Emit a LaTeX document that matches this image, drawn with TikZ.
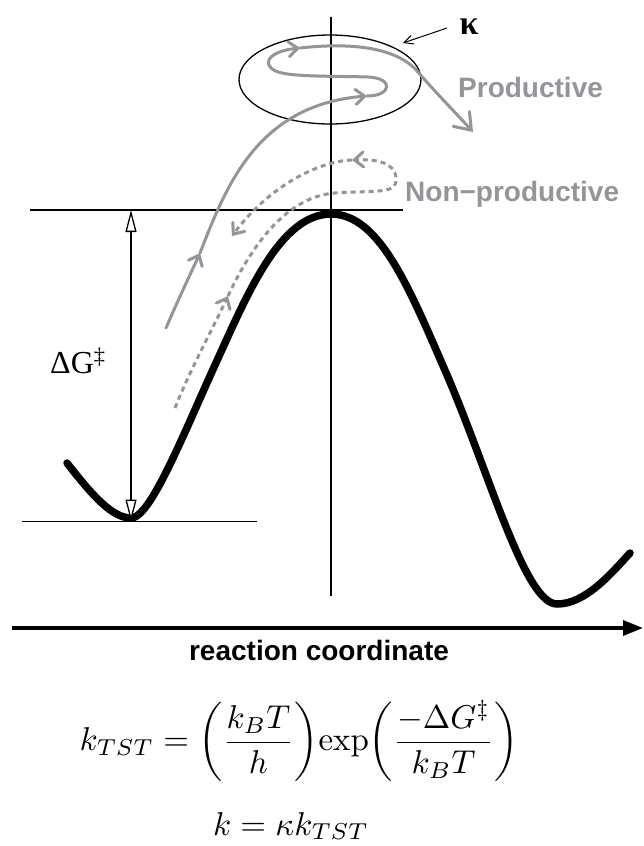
\documentclass[tikz,border=0pt]{standalone}
\usepackage{graphicx}
\usepackage[no-math]{fontspec}
\setmainfont{Liberation Serif}
\newfontfamily\labelfont{Liberation Sans}
\usetikzlibrary{arrows.meta,shapes.geometric}
\definecolor{pgray}{RGB}{148,148,154}
\tikzset{
  thinline/.style={line width=1.3pt, draw=black},
  pes/.style={line width=7.5pt, line cap=round, line join=round},
  prod/.style={draw=pgray, line width=3pt, line cap=round},
  nonprod/.style={draw=pgray, line width=3pt, dash pattern=on 5pt off 4pt},
  midtip/.style={-{Straight Barb[length=9pt,width=15pt,line cap=round]}},
  endtip/.style={-{Straight Barb[length=15pt,width=22pt,line cap=round]}},
  opentri/.style={{Triangle[length=22pt,width=11pt,fill=white]}-{Triangle[length=22pt,width=11pt,fill=white]}},
  glabel/.style={text=pgray, font=\labelfont\bfseries\fontsize{28}{32}\selectfont, inner sep=0pt},
}
\begin{document}
\begin{tikzpicture}[x=1pt,y=-1pt]
\useasboundingbox (0,0) rectangle (643,846);

% potential energy surface
\draw[pes] (67,463) .. controls (92,495) and (112,518) .. (131,518)
  .. controls (150,518) and (181,440) .. (215,365)
  .. controls (247,295) and (280,214) .. (331,214)
  .. controls (380,214) and (410,290) .. (447,375)
  .. controls (490,475) and (525,604) .. (557,604)
  .. controls (585,604) and (610,575) .. (630,553);

% reference lines
\coordinate (ttop) at (131,210);
\coordinate (tbot) at (131,521.5);
\draw[thinline] (30,210) -- (403,210);
\draw[thinline] (22,521.5) -- (257,521.5);
\draw[thinline] (331,17) -- (331,596);
\draw[thinline, opentri] (ttop) -- (tbot);
\node[anchor=base west, inner sep=0pt, font=\fontsize{32}{38}\selectfont] (dg) at (50,373) {ΔG\textsuperscript{‡}};

% transition state region
\node[ellipse, thinline, minimum width=182pt, minimum height=89pt, inner sep=0pt] (ts) at (330,79.5) {};
\node[inner sep=0pt, font=\bfseries\fontsize{34}{40}\selectfont] (kap) at (469,27) {κ};
\coordinate (kstart) at (447,28);
\coordinate (ktip) at (403,43);
\draw[line width=1pt, -{Straight Barb[length=9pt,width=9pt]}] (kstart) -- (ktip);

% productive trajectory
\draw[prod, midtip] (166,328) .. controls (178,300) and (190,275) .. (200,253);
\draw[prod, midtip] (200,253) .. controls (225,190) and (255,105) .. (367,96);
\draw[prod, midtip] (367,96) .. controls (392,96) and (394,78) .. (368,77)
  .. controls (340,76) and (300,77) .. (282,73)
  .. controls (262,69) and (262,52) .. (300,48);
\draw[prod] (300,48) .. controls (345,43) and (395,45) .. (418,72);
\draw[prod, endtip] (418,72) .. controls (436,93) and (455,112) .. (473,132);

% non-productive trajectory
\draw[nonprod, midtip] (175,408) .. controls (190,370) and (212,330) .. (228,296);
\draw[nonprod, midtip] (228,296) .. controls (245,260) and (280,197) .. (335,193)
  .. controls (375,190) and (398,195) .. (396,178)
  .. controls (395,162) and (375,159) .. (352,160);
\draw[nonprod, midtip] (352,160) .. controls (320,161) and (270,185) .. (232,236);

\node[glabel, anchor=base west] (prodlab) at (458,97) {Productive};
\node[glabel, anchor=base west] (nonlab) at (405,201) {Non−productive};

% reaction coordinate axis
\coordinate (ax0) at (12,628);
\coordinate (ax1) at (643,628);
\draw[line width=3.5pt, -{Triangle[length=20pt,width=15pt]}] (ax0) -- (ax1);
\node[anchor=base, inner sep=0pt, font=\labelfont\bfseries\fontsize{28}{32}\selectfont] (rc) at (319,660) {reaction coordinate};

% rate expressions
\node[inner sep=0pt] (ktst) at (299,741) {\scalebox{3.3}{$\displaystyle k_{TST}={\left(\frac{k_BT}{h}\right)}\mathrm{exp}{\left(\frac{-\Delta G^{\ddagger}}{k_BT}\right)}$}};
\node[anchor=base, inner sep=0pt] (krate) at (291,835) {\scalebox{3.3}{$k=\kappa k_{TST}$}};
\end{tikzpicture}
\end{document}
